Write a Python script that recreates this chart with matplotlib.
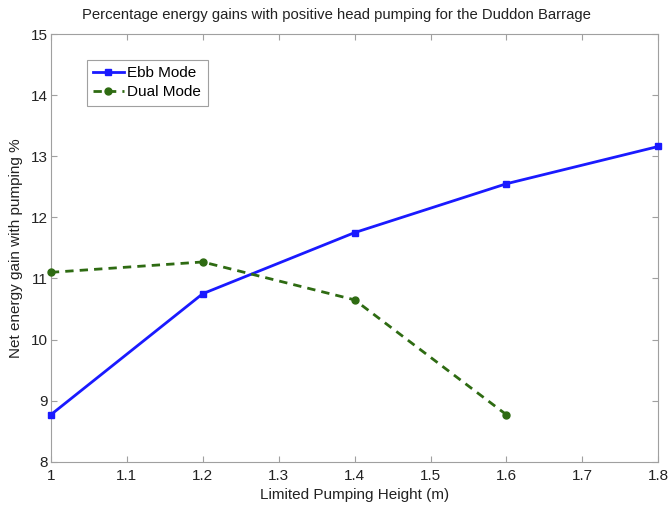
import matplotlib
matplotlib.use('Agg')
import matplotlib.pyplot as plt

plt.rcParams['font.family'] = ['Liberation Sans', 'DejaVu Sans']

# pumping height (m)
ebbHeight = [1.0, 1.2, 1.4, 1.6, 1.8]
ebbGain = [8.77, 10.75, 11.75, 12.55, 13.16]
dualHeight = [1.0, 1.2, 1.4, 1.6]
dualGain = [11.1, 11.27, 10.65, 8.77]

fig = plt.figure(figsize=(6.69, 5.08), dpi=100)
ax = fig.add_axes([0.076, 0.091, 0.908, 0.842])

ax.plot(ebbHeight, ebbGain, color='#1a1aff', linewidth=2.0, marker='s',
        markersize=5, label='Ebb Mode', clip_on=False, zorder=3)
ax.plot(dualHeight, dualGain, color='#2e6b12', linewidth=2.0, linestyle='--',
        dashes=(3, 2.2), marker='o', markersize=5, label='Dual Mode',
        clip_on=False, zorder=3)

ax.set_xlim(1, 1.8)
ax.set_ylim(8, 15)
ax.set_xticks([1, 1.1, 1.2, 1.3, 1.4, 1.5, 1.6, 1.7, 1.8])
ax.set_xticklabels(['1', '1.1', '1.2', '1.3', '1.4', '1.5', '1.6', '1.7', '1.8'])
ax.set_yticks(range(8, 16))

for s in ax.spines.values():
    s.set_color('#a0a0a0')
ax.tick_params(direction='in', colors='#a0a0a0', labelcolor='#222222',
               labelsize=11, length=4, top=True, right=True)
ax.tick_params(axis='y', pad=2)
ax.tick_params(axis='x', pad=5)

ax.set_xlabel('Limited Pumping Height (m)', fontsize=11, color='#222222')
ax.set_ylabel('Net energy gain with pumping %', fontsize=11, color='#222222',
              labelpad=6)
ax.set_title('Percentage energy gains with positive head pumping for the Duddon Barrage',
             fontsize=10.7, color='#222222', pad=11, x=0.47)

leg = ax.legend(loc='upper left', bbox_to_anchor=(0.059, 0.94), fontsize=11,
                fancybox=False, framealpha=1, borderpad=0.42, borderaxespad=0,
                handlelength=2.0, handletextpad=0.25, labelspacing=0.35)
leg.get_frame().set_edgecolor('#a0a0a0')
leg.get_frame().set_linewidth(0.8)

fig.savefig('out.png', dpi=100)
